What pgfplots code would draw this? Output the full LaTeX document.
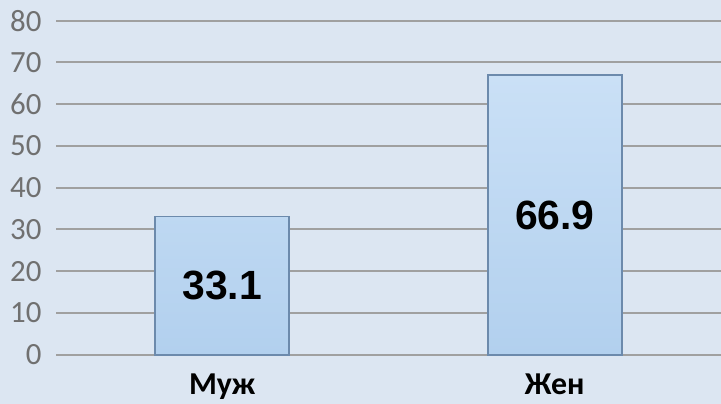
\documentclass[border=0pt]{standalone}
\usepackage{pgfplots}
\pgfplotsset{compat=1.18}
\usepackage{fontspec}
\setmainfont{Carlito}
\newfontfamily\arialfont{Liberation Sans}
\definecolor{bgc}{RGB}{220,230,242}
\definecolor{gridc}{RGB}{160,160,160}
\definecolor{tickc}{RGB}{112,112,112}
\definecolor{bartop}{RGB}{202,224,246}
\definecolor{barbot}{RGB}{178,208,238}
\definecolor{baredge}{RGB}{108,138,172}
\begin{document}
\begin{tikzpicture}
\fill[bgc] (-56bp,-49.3bp) rectangle (665bp,354.7bp);
\useasboundingbox (-56bp,-49.3bp) rectangle (665bp,354.7bp);
\begin{axis}[
  at={(0,0)}, anchor=south west,
  scale only axis,
  width=665bp, height=334bp,
  xmin=-0.5, xmax=1.5,
  ymin=0, ymax=80,
  ytick={0,10,...,80},
  xtick={0,1},
  xticklabels={Муж,Жен},
  axis line style={draw=none},
  major tick length=0pt,
  ymajorgrids,
  grid style={gridc, line width=2bp},
  /pgf/number format/assume math mode=true,
  yticklabel style={font=\fontsize{31}{32}\selectfont, text=tickc, xshift=-11bp},
  xticklabel style={font=\fontsize{32}{33}\selectfont\bfseries, text=black, yshift=-16bp},
  clip=false,
]
\addplot[ybar, bar width=134bp, draw=baredge, line width=1.8bp, top color=bartop, bottom color=barbot]
  coordinates {(0,33.1) (1,66.9)};
\addplot[only marks, mark=none, nodes near coords, point meta=explicit symbolic,
  nodes near coords style={anchor=center, font=\arialfont\bfseries\fontsize{41}{42}\selectfont, text=black}]
  coordinates {(0,16.55)[33.1] (1,33.45)[66.9]};
\end{axis}
\end{tikzpicture}
\end{document}
